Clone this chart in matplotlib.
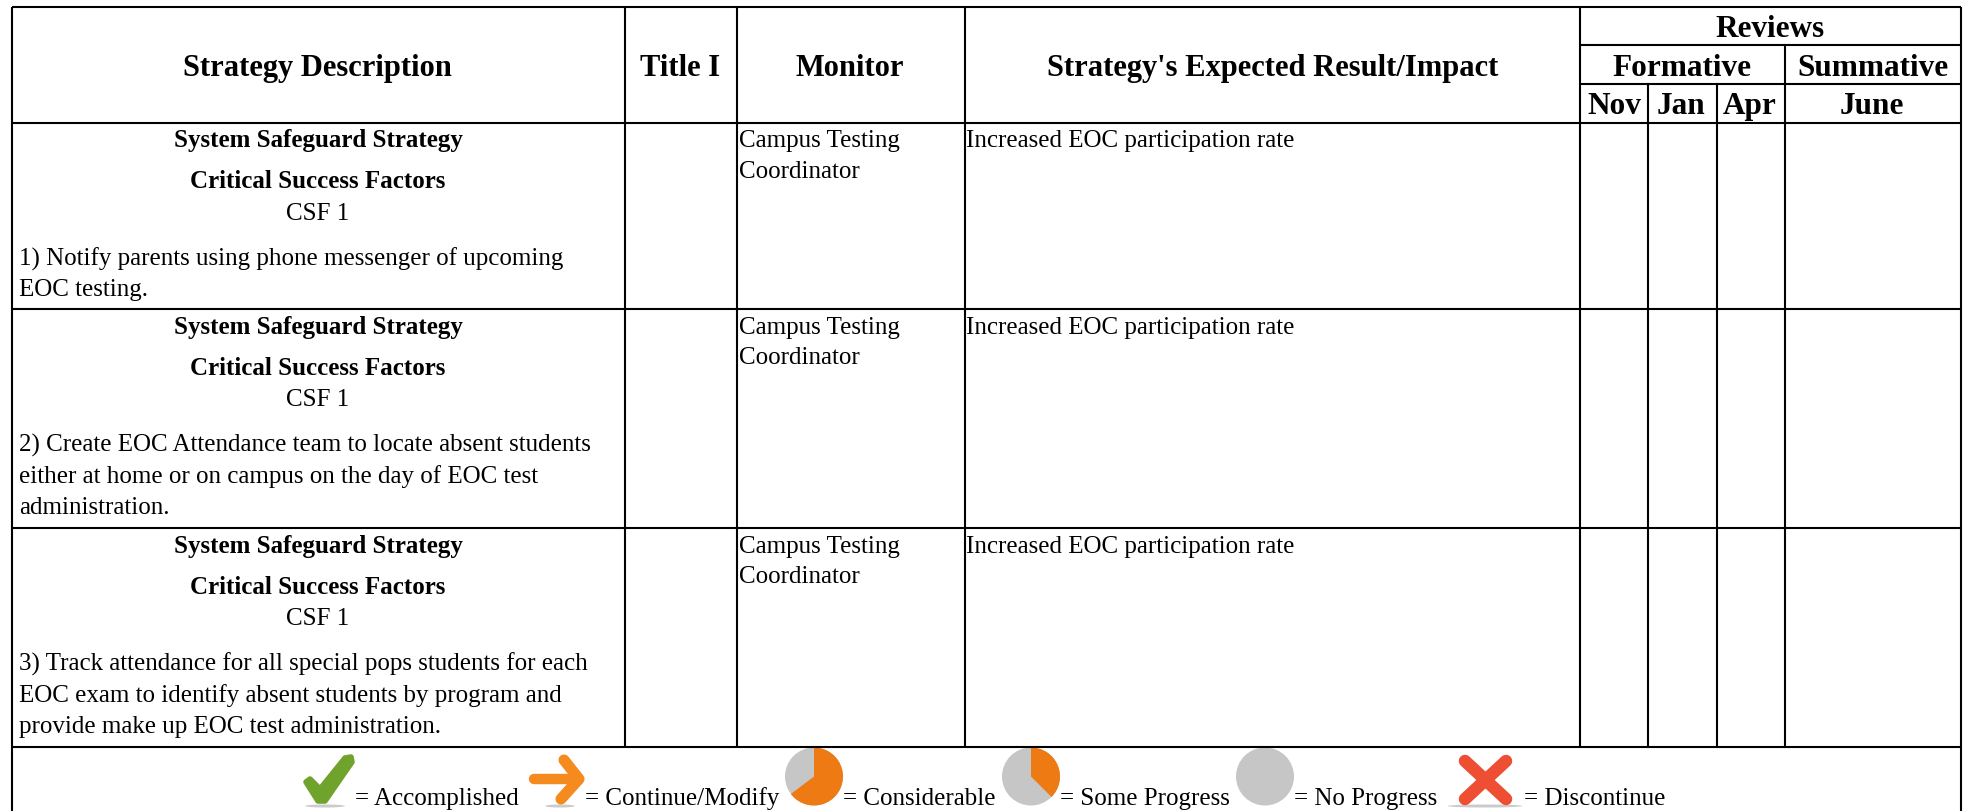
import matplotlib
matplotlib.use('Agg')
import matplotlib.pyplot as plt
from matplotlib.patches import Circle, Wedge, Polygon, Ellipse

plt.rcParams['font.family'] = ['Liberation Serif', 'DejaVu Serif']

# table text
main_headers = ['Strategy Description', 'Title I', 'Monitor', "Strategy's Expected Result/Impact"]
review_months = ['Nov', 'Jan', 'Apr']
strategy_lines = [
    ['1) Notify parents using phone messenger of upcoming', 'EOC testing.'],
    ['2) Create EOC Attendance team to locate absent students', 'either at home or on campus on the day of EOC test', 'administration.'],
    ['3) Track attendance for all special pops students for each', 'EOC exam to identify absent students by program and', 'provide make up EOC test administration.'],
]
monitor_lines = ['Campus Testing', 'Coordinator']
result_text = 'Increased EOC participation rate'

# legend
legend_labels = ['= Accomplished', '= Continue/Modify', '= Considerable', '= Some Progress', '= No Progress', '= Discontinue']
pie_orange_share = [0.647, 0.375, 0.0]

W, H = 1963, 812
LW = 1.5
BODY = 18
HEAD = 22
REVIEW = 22.5
SUB = 18

fig = plt.figure(figsize=(W / 100, H / 100), dpi=100)
ax = fig.add_axes([0, 0, 1, 1])
ax.set_xlim(0, W)
ax.set_ylim(H, 0)
ax.axis('off')

# grid
col_x = [12, 624.5, 736.5, 964.5, 1580, 1961]
row_y = [8, 123.5, 310, 529, 748]
for x in col_x:
    bottom = H if x in (12, 1961) else row_y[-1]
    ax.plot([x, x], [row_y[0], bottom], color='black', lw=LW, solid_capstyle='butt')
for y in row_y:
    ax.plot([col_x[0], col_x[-1]], [y, y], color='black', lw=LW, solid_capstyle='butt')
for y in [46, 85]:
    ax.plot([1580, 1961], [y, y], color='black', lw=LW, solid_capstyle='butt')
ax.plot([1785, 1785], [46, row_y[-1]], color='black', lw=LW)
for x in [1648, 1717]:
    ax.plot([x, x], [85, row_y[-1]], color='black', lw=LW)

# headers
head_x = [317, 680, 850, 1273]
for x, s in zip(head_x, main_headers):
    ax.text(x, 76, s, ha='center', va='baseline', fontsize=HEAD, fontweight='bold')
ax.text(1770, 37, 'Reviews', ha='center', va='baseline', fontsize=REVIEW, fontweight='bold')
ax.text(1682, 76, 'Formative', ha='center', va='baseline', fontsize=REVIEW, fontweight='bold')
ax.text(1873, 76, 'Summative', ha='center', va='baseline', fontsize=REVIEW, fontweight='bold')
for x, s in zip([1614, 1681, 1750, 1872], review_months + ['June']):
    ax.text(x, 114, s, ha='center', va='baseline', fontsize=REVIEW, fontweight='bold')

# rows
for top, lines in zip(row_y[1:4], strategy_lines):
    ax.text(318, top + 24, 'System Safeguard Strategy', ha='center', va='baseline', fontsize=SUB, fontweight='bold')
    ax.text(318, top + 65, 'Critical Success Factors', ha='center', va='baseline', fontsize=SUB, fontweight='bold')
    ax.text(318, top + 96, 'CSF 1', ha='center', va='baseline', fontsize=BODY)
    for i, s in enumerate(lines):
        ax.text(19, top + 142 + 31 * i, s, ha='left', va='baseline', fontsize=BODY)
    for i, s in enumerate(monitor_lines):
        ax.text(739, top + 24 + 30.5 * i, s, ha='left', va='baseline', fontsize=BODY)
    ax.text(966, top + 24, result_text, ha='left', va='baseline', fontsize=BODY)

# legend icons
cy = 777.5
check_pts = [(351, 758), (352, 763), (325, 802), (318, 802), (306, 783), (310, 780), (320, 790), (345, 759)]
ax.add_patch(Polygon(check_pts, closed=True, facecolor='#6FA32B', edgecolor='#6FA32B', lw=4, joinstyle='round'))
ax.plot([534, 576], [780, 780], color='#F58A1F', lw=7.5, solid_capstyle='round')
ax.plot([564, 579, 561], [761, 780, 800], color='#F58A1F', lw=8, solid_capstyle='round', solid_joinstyle='round')
for cx, share in zip([814, 1031, 1265], pie_orange_share):
    ax.add_patch(Circle((cx, cy), 29, facecolor='#C6C6C6', edgecolor='none'))
    if share > 0:
        ax.add_patch(Wedge((cx, cy), 29, -90, -90 + 360 * share, facecolor='#EE7A14', edgecolor='none'))
ax.plot([1465, 1506], [762, 800], color='#EE4F33', lw=9, solid_capstyle='round')
ax.plot([1506, 1465], [762, 800], color='#EE4F33', lw=9, solid_capstyle='round')
# soft shadows under the icons
for cx, width in [(325, 40), (560, 30), (1485, 75)]:
    ax.add_patch(Ellipse((cx, 807), width, 3, facecolor='#B5B5B5', edgecolor='none', alpha=0.7, zorder=0))

for x, s in zip([355, 585, 843, 1060, 1294, 1524], legend_labels):
    ax.text(x, 805, s, ha='left', va='baseline', fontsize=BODY)

fig.savefig('out.png', dpi=100)
